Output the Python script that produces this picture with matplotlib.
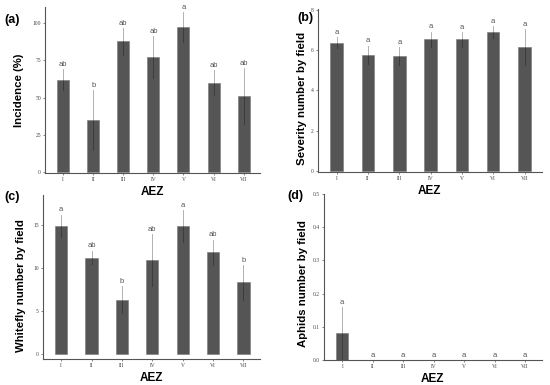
import numpy as np
import matplotlib
matplotlib.use("Agg")
import matplotlib.pyplot as plt

aez = ["I", "II", "III", "IV", "V", "VI", "VII"]

incidence = [62, 35, 87.5, 77, 97, 60, 51]
incidence_err = [7, 20, 9, 14, 10, 8.5, 18.5]
incidence_let = ["ab", "b", "ab", "ab", "a", "ab", "ab"]

severity = [6.38, 5.76, 5.70, 6.55, 6.53, 6.90, 6.14]
severity_err = [0.27, 0.47, 0.45, 0.37, 0.36, 0.30, 0.90]
severity_let = ["a"] * 7

whitefly = [14.9, 11.2, 6.3, 10.9, 14.9, 11.8, 8.3]
whitefly_err = [1.3, 0.8, 1.55, 3.0, 1.85, 1.5, 2.05]
whitefly_let = ["a", "ab", "b", "ab", "a", "ab", "b"]

aphids = [0.08, 0, 0, 0, 0, 0, 0]
aphids_err = [0.08, 0, 0, 0, 0, 0, 0]
aphids_let = ["a"] * 7

bold_font = "Liberation Sans"
tick_font = "Liberation Serif"

fig = plt.figure(figsize=(5.5, 3.85), dpi=100)


def panel(rect, vals, errs, lets, ylabel, ylim, yticks, tick_fmt, tag, tag_xy, ypad, label_y):
    ax = fig.add_axes(rect)
    x = np.arange(len(aez))
    ax.bar(x, vals, width=0.4, color="#555555", edgecolor="#777777", linewidth=0.4, zorder=2)
    for xi, v, e in zip(x, vals, errs):
        if e > 0:
            ax.plot([xi, xi], [v - e, v + e], color="black", alpha=0.3, lw=0.7, zorder=3)
    span = ylim[1] - ylim[0]
    for xi, v, e, l in zip(x, vals, errs, lets):
        ax.text(xi, v + e + span * 0.008, l, ha="center", va="bottom",
                fontsize=5.5, color="#555555", family=bold_font)
    ax.set_xlim(-0.6, 6.55)
    ax.set_ylim(*ylim)
    ax.set_yticks(yticks)
    ax.set_yticklabels([tick_fmt.format(t) for t in yticks])
    ax.set_xticks(x)
    ax.set_xticklabels(aez)
    for s in ["top", "right"]:
        ax.spines[s].set_visible(False)
    for s in ["left", "bottom"]:
        ax.spines[s].set_color("#555555")
        ax.spines[s].set_linewidth(0.8)
    ax.tick_params(axis="both", length=1.5, width=0.5, color="#555555",
                   labelsize=4, labelcolor="#444444", pad=1.5)
    for lab in ax.get_xticklabels() + ax.get_yticklabels():
        lab.set_family(tick_font)
    ax.set_ylabel(ylabel, fontsize=8.2, fontweight="bold", family=bold_font, labelpad=ypad)
    ax.yaxis.label.set_y(label_y)
    ax.set_xlabel("AEZ", fontsize=8.5, fontweight="bold", family=bold_font, labelpad=2.5)
    fig.text(tag_xy[0] / 550, 1 - tag_xy[1] / 385, tag, fontsize=9, fontweight="bold",
             family=bold_font, ha="center", va="center")
    return ax


panel([0.082, 0.551, 0.391, 0.431], incidence, incidence_err, incidence_let,
      "Incidence (%)", (-0.3, 110.5), [0, 25, 50, 75, 100], "{:g}", "(a)", (12, 20), 6, 0.5)
panel([0.578, 0.553, 0.407, 0.424], severity, severity_err, severity_let,
      "Severity number by field", (-0.05, 8.05), [0, 2, 4, 6, 8], "{:g}", "(b)", (305, 18), 3, 0.45)
panel([0.078, 0.0675, 0.395, 0.4265], whitefly, whitefly_err, whitefly_let,
      "Whitefly number by field", (-0.6, 18.5), [0, 5, 10, 15], "{:g}", "(c)", (12, 197), 5, 0.45)
panel([0.589, 0.065, 0.396, 0.431], aphids, aphids_err, aphids_let,
      "Aphids number by field", (0, 0.5), [0, 0.1, 0.2, 0.3, 0.4, 0.5], "{:.1f}", "(d)", (295, 196), 3, 0.46)

fig.savefig("out.png", dpi=100)
